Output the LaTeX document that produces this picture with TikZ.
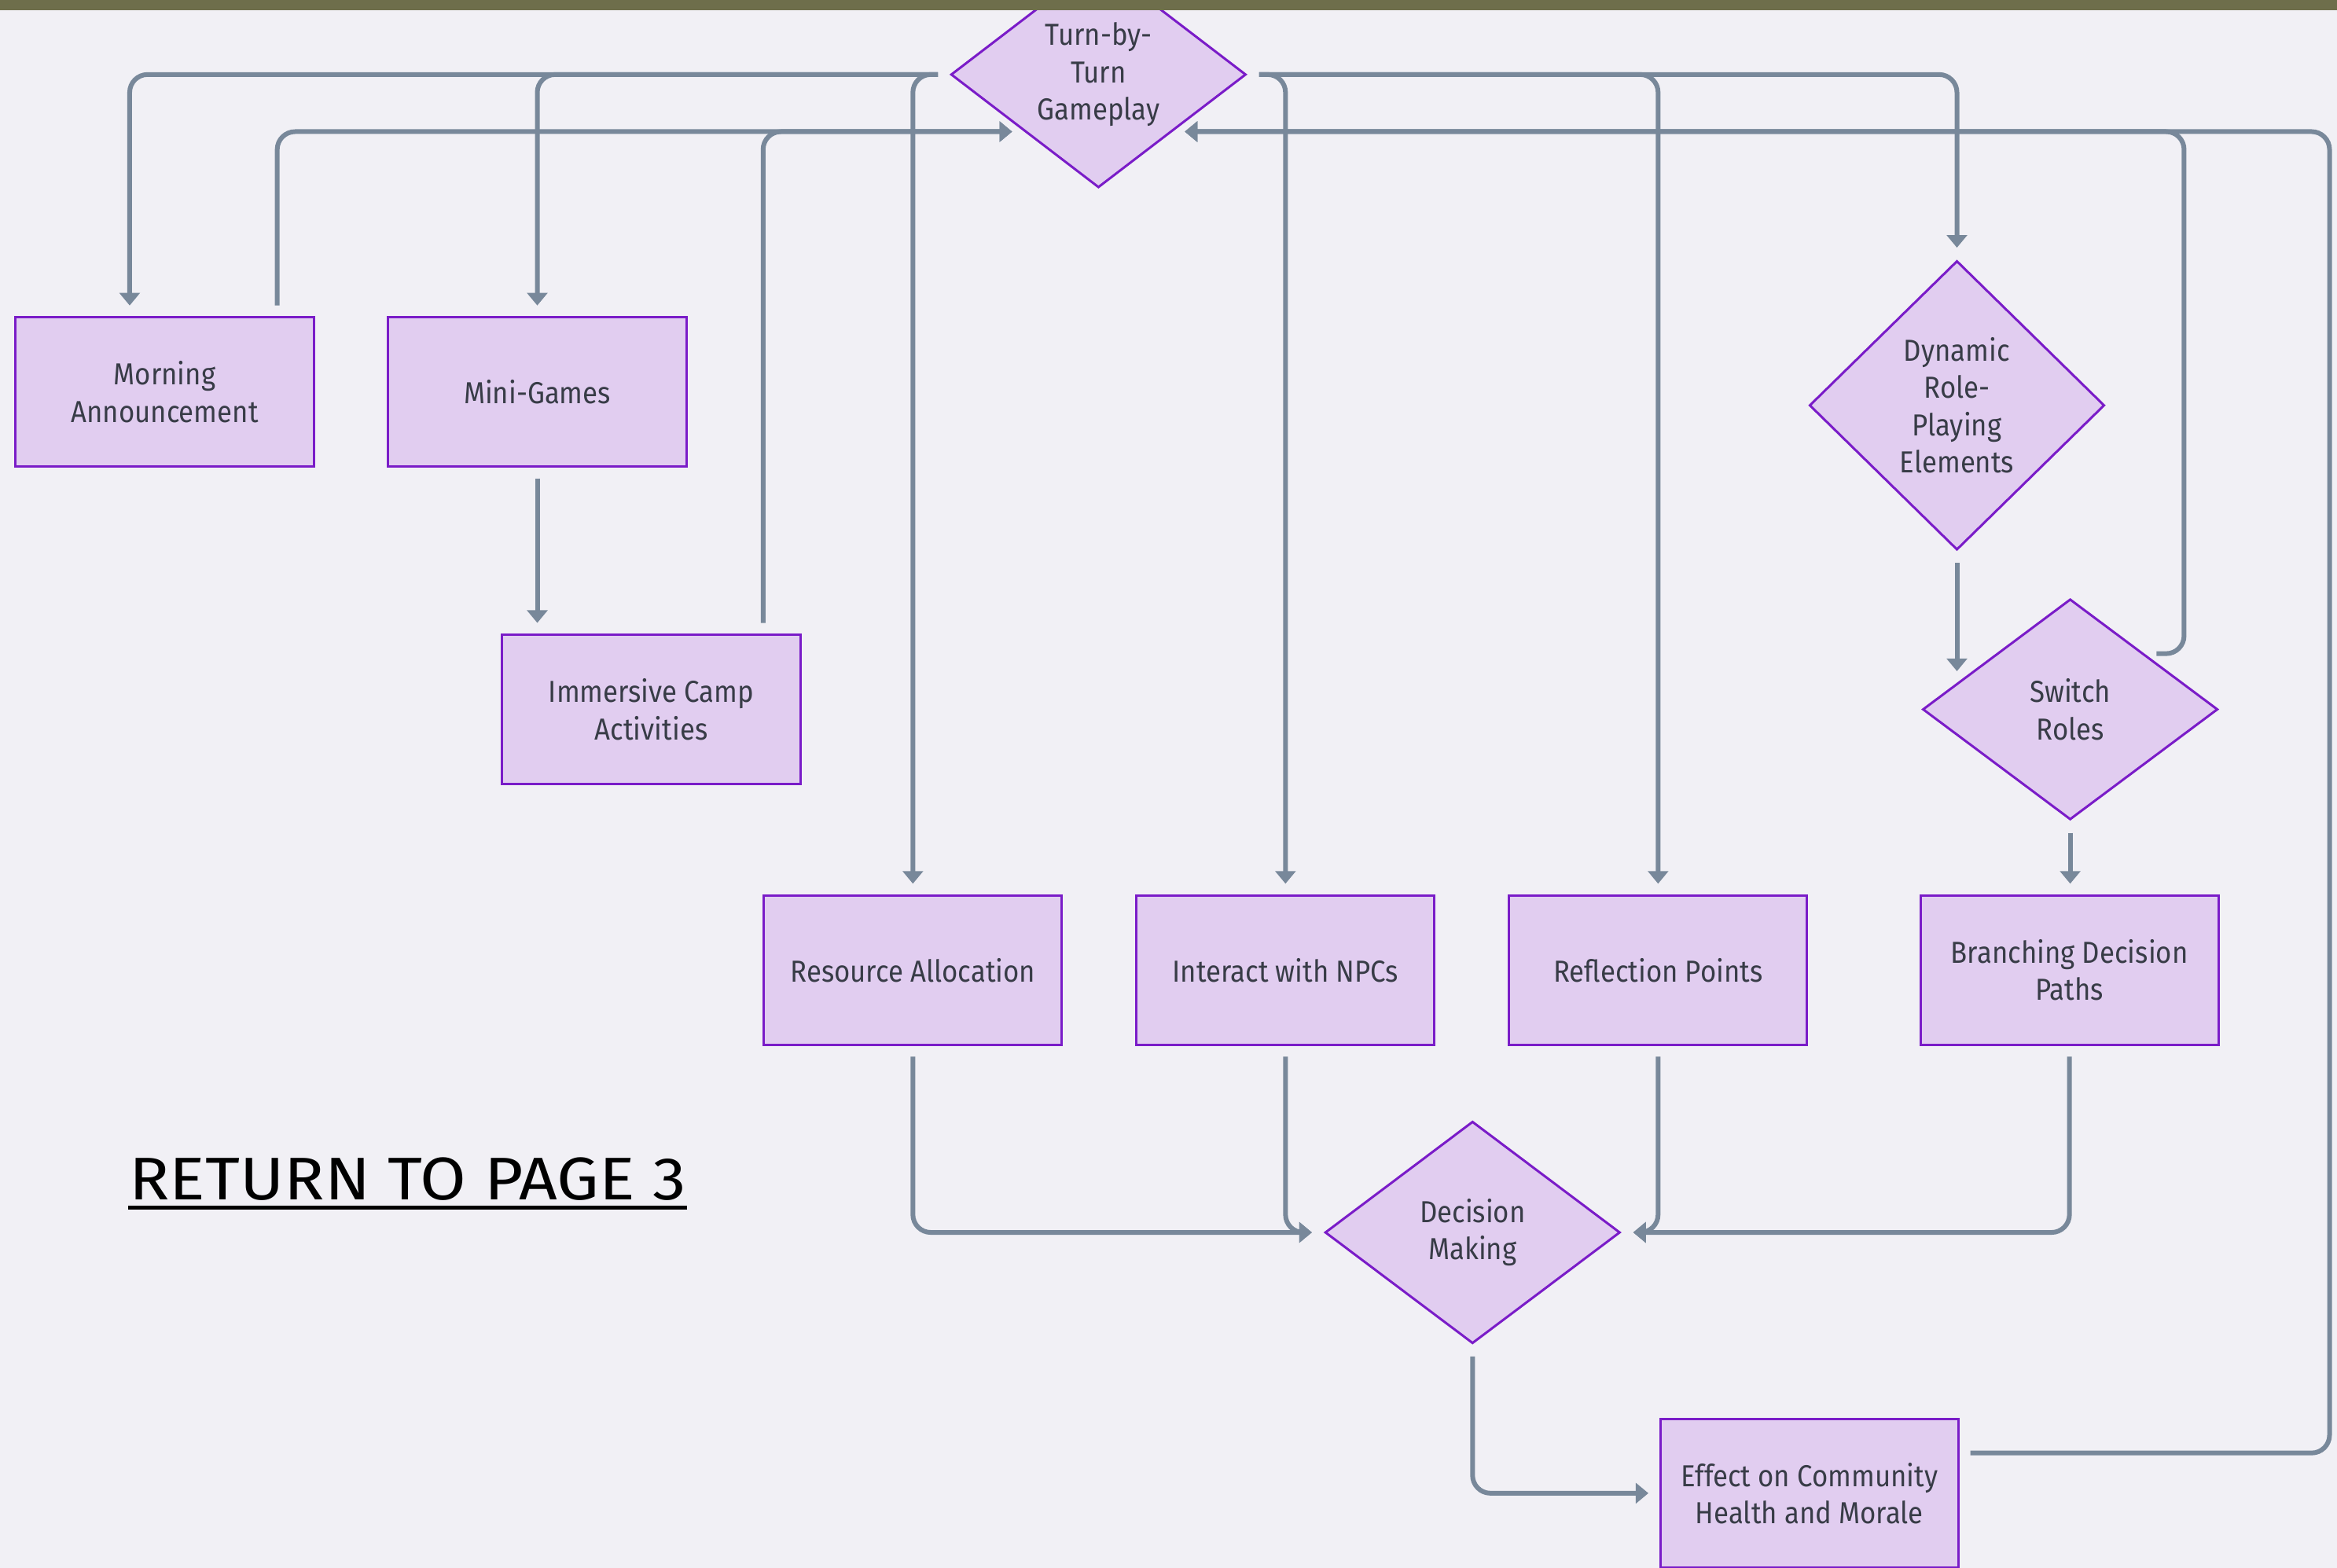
\documentclass[tikz,border=0pt]{standalone}
\usepackage{fontspec}
\setmainfont{Fira Sans}[FakeStretch=0.9]
\newfontfamily\backfont{Fira Sans}[FakeStretch=1.11]
\usetikzlibrary{positioning,arrows.meta,shapes.geometric,calc}

\definecolor{bgcol}{HTML}{F1F0F5}
\definecolor{bandcol}{HTML}{6E6E4B}
\definecolor{boxfill}{HTML}{E1CDF0}
\definecolor{boxline}{HTML}{7A1CC8}
\definecolor{linkcol}{HTML}{78889A}
\definecolor{txtcol}{HTML}{383C47}

\begin{document}
\begin{tikzpicture}[
    x=0.1mm,y=0.1mm,
    box/.style={rectangle,draw=boxline,fill=boxfill,line width=0.45pt,minimum width=20mm,minimum height=10mm,outer sep=0pt,align=center,text=txtcol,font=\fontsize{5.8}{7.1}\selectfont},
    choice/.style={diamond,draw=boxline,fill=boxfill,line width=0.45pt,minimum width=19.8mm,inner sep=0pt,align=center,text=txtcol,font=\fontsize{5.8}{7.1}\selectfont},
    arrow/.style={-{Triangle[length=0.85mm,width=1.35mm]},draw=linkcol,line width=0.9pt,rounded corners=1.2mm,shorten <=0.8mm,shorten >=0.8mm},
    node distance=5mm
]
    \useasboundingbox (0,0) rectangle (1568,-1052);
    \clip (0,0) rectangle (1568,-1052);
    \fill[bgcol] (0,0) rectangle (1568,-1052);

    % Nodes
    \node[choice,minimum height=15mm] (gameplay) at (737,-50) {Turn-by-\\Turn\\Gameplay};
    \node[box] (morning) at (110.5,-263) {Morning\\Announcement};
    \node[box,right=of morning] (minigames) {Mini-Games};
    \node[box] (immersive) at (437,-476) {Immersive Camp\\Activities};
    \node[box] (resource) at (612.5,-651) {Resource Allocation};
    \node[box,right=of resource] (npcs) {Interact with NPCs};
    \node[box,right=of npcs] (reflection) {Reflection Points};
    \node[box,right=7.6mm of reflection] (branching) {Branching Decision\\Paths};
    \node[choice,minimum height=19.4mm] (dynamic) at (1313,-272) {Dynamic\\Role-\\Playing\\Elements};
    \node[choice,minimum height=14.8mm] (switch) at (1389,-476) {Switch\\Roles};
    \node[choice,minimum height=14.9mm] (decision) at (988,-827) {Decision\\Making};
    \node[box] (effect) at (1214,-1002) {Effect on Community\\Health and Morale};

    % Out of the gameplay loop
    \draw[arrow] (gameplay.west) -| ([xshift=-2.35mm]morning.north);
    \draw[arrow] (gameplay.west) -| (minigames.north);
    \draw[arrow] (gameplay.west) -| (resource.north);
    \draw[arrow] (gameplay.east) -| (npcs.north);
    \draw[arrow] (gameplay.east) -| (reflection.north);
    \draw[arrow] (gameplay.east) -| (dynamic.north);

    % Back into the gameplay loop
    \draw[arrow] ([xshift=7.55mm]morning.north) |- (gameplay.south west);
    \draw[arrow] ([xshift=7.5mm]immersive.north) |- (gameplay.south west);
    \draw[arrow] (switch.north east) -- ++(26.5,0) |- (gameplay.south east);
    \draw[arrow] ([yshift=2.7mm]effect.east) -- ++(249,0) |- (gameplay.south east);

    % Inner steps
    \draw[arrow] (minigames.south) -- (minigames.south |- immersive.north);
    \draw[arrow] (dynamic.south) -- (dynamic.south |- switch.167);
    \draw[arrow] (switch.south) -- (switch.south |- branching.north);
    \draw[arrow] (resource.south) |- (decision.west);
    \draw[arrow] (npcs.south) |- (decision.west);
    \draw[arrow] (reflection.south) |- (decision.east);
    \draw[arrow] (branching.south) |- (decision.east);
    \draw[arrow] (decision.south) |- (effect.west);

    % Link back
    \node[font=\backfont\fontsize{11.5}{13}\selectfont,inner sep=0pt,anchor=base west] (back) at (86,-805) {RETURN TO PAGE 3};
    \draw[line width=0.8pt] ([yshift=-1.5pt]back.base west) -- ([yshift=-1.5pt]back.base east);

    \fill[bandcol] (0,0) rectangle (1568,-7);
\end{tikzpicture}
\end{document}
